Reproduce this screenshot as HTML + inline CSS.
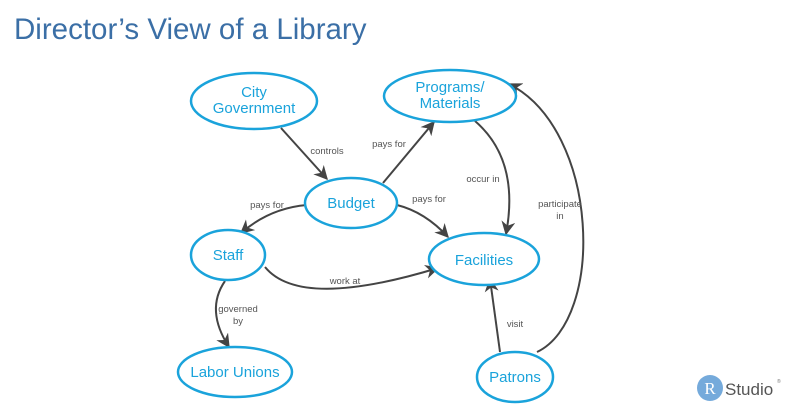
<!DOCTYPE html>
<html><head><meta charset="utf-8"><style>
body{margin:0;background:#fff;}
svg{display:block;}
</style></head><body>
<svg width="793" height="419" xmlns="http://www.w3.org/2000/svg" font-family="Liberation Sans, sans-serif">
<defs>
<marker id="a" viewBox="0 0 10 10" refX="9" refY="5" markerWidth="14" markerHeight="14" orient="auto" markerUnits="userSpaceOnUse">
<path d="M0,0 L10,5 L0,10 L3,5 z" fill="#444"/></marker>
</defs>
<text x="14" y="39" font-size="29.5" fill="#3b6fa6">Director’s View of a Library</text>
<g fill="none" stroke="#444" stroke-width="2" marker-end="url(#a)">
<path d="M281,128 L327,179"/>
<path d="M383,183 L434,122"/>
<path d="M307,205 Q270,208 241,233"/>
<path d="M397,205 Q425,212 448,237"/>
<path d="M475,121 Q520,160 506,234"/>
<path d="M265,267 Q300,310 438,268"/>
<path d="M225,281 Q205,310 229,347"/>
<path d="M500,352 L490,279"/>
<path d="M537,352 C605,320 600,130 509,84"/>
</g>
<g fill="#fff" stroke="#1aa3db" stroke-width="2.5">
<ellipse cx="254" cy="101" rx="63" ry="28"/>
<ellipse cx="450" cy="96" rx="66" ry="26"/>
<ellipse cx="351" cy="203" rx="46" ry="25"/>
<ellipse cx="228" cy="255" rx="37" ry="25"/>
<ellipse cx="484" cy="259" rx="55" ry="26"/>
<ellipse cx="235" cy="372" rx="57" ry="25"/>
<ellipse cx="515" cy="377" rx="38" ry="25"/>
</g>
<g fill="#1aa3db" font-size="15" text-anchor="middle">
<text x="254" y="97">City</text><text x="254" y="113">Government</text>
<text x="450" y="92">Programs/</text><text x="450" y="108">Materials</text>
<text x="351" y="208">Budget</text>
<text x="228" y="260">Staff</text>
<text x="484" y="265">Facilities</text>
<text x="235" y="377">Labor Unions</text>
<text x="515" y="382">Patrons</text>
</g>
<g fill="#555" font-size="9.5" text-anchor="middle">
<text x="327" y="154">controls</text>
<text x="389" y="147">pays for</text>
<text x="267" y="208">pays for</text>
<text x="429" y="202">pays for</text>
<text x="483" y="182">occur in</text>
<text x="560" y="207">participate</text><text x="560" y="219">in</text>
<text x="345" y="284">work at</text>
<text x="238" y="312">governed</text><text x="238" y="324">by</text>
<text x="515" y="327">visit</text>
</g>
<circle cx="710" cy="388" r="13" fill="#75aadb"/>
<text x="710" y="394" font-family="Liberation Serif, serif" font-size="17" fill="#fff" text-anchor="middle">R</text>
<text x="725" y="395" font-size="17" fill="#555">Studio</text>
<text x="777" y="383" font-size="5" fill="#777">®</text>
</svg>
</body></html>
